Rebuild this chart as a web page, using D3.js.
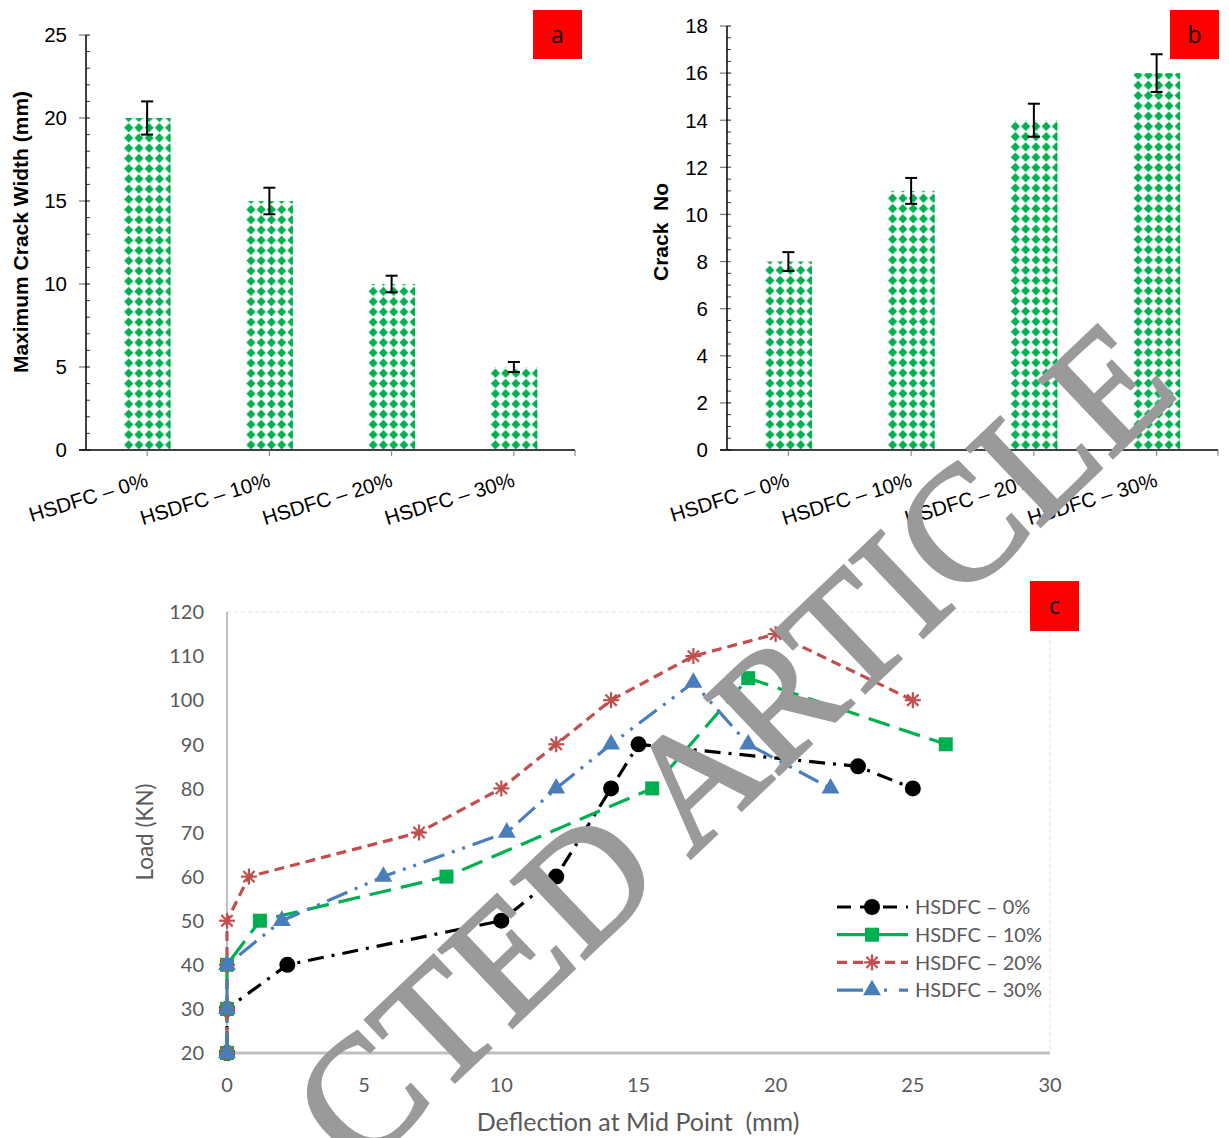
<!DOCTYPE html>
<html><head><meta charset="utf-8">
<script src="https://cdn.jsdelivr.net/npm/d3@7"></script>
<style>body{margin:0;background:#fff}svg{display:block}text{white-space:pre}</style>
</head><body>
<svg id="c" width="1229" height="1138"></svg>
<script>
// ---------- data ----------
const barCategories = ["HSDFC \u2013 0%", "HSDFC \u2013 10%", "HSDFC \u2013 20%", "HSDFC \u2013 30%"];
const crackWidth = [20, 15, 10, 5];
const crackWidthErr = [1.0, 0.8, 0.5, 0.3];
const crackNo = [8, 11, 14, 16];
const crackNoErr = [0.4, 0.55, 0.7, 0.8];
const ticksA = [0, 5, 10, 15, 20, 25];
const ticksB = [0, 2, 4, 6, 8, 10, 12, 14, 16, 18];

const seriesNames = ["HSDFC \u2013 0%", "HSDFC \u2013 10%", "HSDFC \u2013 20%", "HSDFC \u2013 30%"];
const deflection0 = [0, 0, 2.2, 10, 12, 14, 15, 23, 25];
const load0 = [20, 30, 40, 50, 60, 80, 90, 85, 80];
const deflection10 = [0, 0, 0, 1.2, 8, 15.5, 19, 26.2];
const load10 = [20, 30, 40, 50, 60, 80, 105, 90];
const deflection20 = [0, 0, 0, 0, 0.8, 7, 10, 12, 14, 17, 20, 25];
const load20 = [20, 30, 40, 50, 60, 70, 80, 90, 100, 110, 115, 100];
const deflection30 = [0, 0, 0, 2, 5.7, 10.2, 12, 14, 17, 19, 22];
const load30 = [20, 30, 40, 50, 60, 70, 80, 90, 104, 90, 80];
const ticksCx = [0, 5, 10, 15, 20, 25, 30];
const ticksCy = [20, 30, 40, 50, 60, 70, 80, 90, 100, 110, 120];

const svg = d3.select("#c");
const defs = svg.append("defs");
const GREEN = "#00b050";

function barPanel(opts) {
  const g = svg.append("g");
  const x = d3.scaleBand().domain(barCategories).range([opts.x0, opts.x1]).paddingInner(0.615).paddingOuter(0.3075);
  const y = d3.scaleLinear().domain(opts.domain).range([450, opts.yTop]);
  const minor = d3.range(opts.domain[0], opts.domain[1] + 1e-9, opts.minorStep);
  g.selectAll(".mn").data(minor).join("line")
    .attr("x1", opts.x0).attr("x2", opts.x0 + 4)
    .attr("y1", d => y(d)).attr("y2", d => y(d))
    .attr("stroke", "#333").attr("stroke-width", 1);
  g.selectAll(".mj").data(opts.ticks).join("line")
    .attr("x1", opts.x0 - 7).attr("x2", opts.x0 + 4)
    .attr("y1", d => y(d)).attr("y2", d => y(d))
    .attr("stroke", "#777").attr("stroke-width", 1.2);
  g.selectAll(".tl").data(opts.ticks).join("text")
    .attr("x", opts.x0 - 19).attr("y", d => y(d)).attr("dy", "0.36em")
    .attr("text-anchor", "end").attr("font-family", "Liberation Sans, Arial, sans-serif")
    .attr("font-size", 20.5).attr("fill", "#000").text(d => d);
  barCategories.forEach((c, i) => {
    const bx = x(c), by = y(opts.values[i]), bw = x.bandwidth(), bh = y(0) - by;
    const pid = opts.id + "p" + i;
    const step = bw / 4.6;
    const p = defs.append("pattern").attr("id", pid).attr("patternUnits", "userSpaceOnUse")
      .attr("x", bx).attr("y", y(0)).attr("width", step).attr("height", step);
    p.append("rect").attr("width", step).attr("height", step).attr("fill", "#fff");
    const s = step, h = s / 2, r = s * 0.45;
    p.append("path").attr("d", `M${h},${h - r}L${h + r},${h}L${h},${h + r}L${h - r},${h}Z`).attr("fill", GREEN);
    g.append("rect").attr("x", bx).attr("y", by).attr("width", bw).attr("height", bh).attr("fill", `url(#${pid})`);
  });
  g.append("line").attr("x1", opts.x0).attr("x2", opts.x0).attr("y1", y(opts.domain[1])).attr("y2", 450)
    .attr("stroke", "#000").attr("stroke-width", 1.5);
  g.append("line").attr("x1", opts.x0 - 7).attr("x2", opts.x1).attr("y1", 450).attr("y2", 450)
    .attr("stroke", "#000").attr("stroke-width", 1.5);
  g.append("line").attr("x1", opts.x1).attr("x2", opts.x1).attr("y1", 450).attr("y2", 456).attr("stroke", "#777");
  g.selectAll(".ct").data(barCategories).join("line")
    .attr("x1", d => x(d) + x.bandwidth() / 2).attr("x2", d => x(d) + x.bandwidth() / 2)
    .attr("y1", 450).attr("y2", 456).attr("stroke", "#777");
  barCategories.forEach((c, i) => {
    const cx = x(c) + x.bandwidth() / 2;
    const t = y(opts.values[i] + opts.err[i]), b = y(opts.values[i] - opts.err[i]);
    g.append("line").attr("x1", cx).attr("x2", cx).attr("y1", t).attr("y2", b).attr("stroke", "#000").attr("stroke-width", 2);
    [t, b].forEach(v => g.append("line").attr("x1", cx - 6).attr("x2", cx + 6).attr("y1", v).attr("y2", v).attr("stroke", "#000").attr("stroke-width", 2));
  });
  g.selectAll(".cl").data(barCategories).join("text")
    .attr("transform", d => `translate(${x(d) + x.bandwidth() / 2 + 2},${486}) rotate(-17)`)
    .attr("text-anchor", "end").attr("font-family", "Liberation Sans, Arial, sans-serif")
    .attr("font-size", 20.5).attr("fill", "#000").text(d => d);
  g.append("text").attr("transform", `translate(${opts.titleX},${opts.titleY}) rotate(-90)`)
    .attr("text-anchor", "middle").attr("font-family", "Liberation Sans, Arial, sans-serif")
    .attr("font-weight", "bold").attr("font-size", 21).attr("fill", "#000").text(opts.title);
  g.append("rect").attr("x", opts.boxX).attr("y", 10).attr("width", 49).attr("height", 49).attr("fill", "#ff0000");
  g.append("text").attr("x", opts.boxX + 24.5).attr("y", 35).attr("dy", "0.35em").attr("text-anchor", "middle")
    .attr("font-family", "Open Sans, sans-serif").attr("font-size", 23).attr("fill", "#000").text(opts.letter);
}

barPanel({ id: "a", x0: 86, x1: 575, domain: [0, 25], yTop: 35, ticks: ticksA, minorStep: 1,
  values: crackWidth, err: crackWidthErr, title: "Maximum Crack Width (mm)", titleX: 28, titleY: 232,
  boxX: 533, letter: "a" });
barPanel({ id: "b", x0: 727, x1: 1218, domain: [0, 18], yTop: 26, ticks: ticksB, minorStep: 0.5,
  values: crackNo, err: crackNoErr, title: "Crack  No", titleX: 668, titleY: 232,
  boxX: 1170, letter: "b" });

// ---------- panel c ----------
const gc = svg.append("g");
const xc = d3.scaleLinear().domain([0, 30]).range([227, 1050]);
const yc = d3.scaleLinear().domain([20, 120]).range([1053, 612]);
const GRAY = "#595959";
const FONT_C = "Lato, 'Open Sans', sans-serif";

gc.append("line").attr("x1", xc(0)).attr("x2", xc(30)).attr("y1", yc(120)).attr("y2", yc(120))
  .attr("stroke", "#e3e3e3").attr("stroke-dasharray", "4,3");
gc.append("line").attr("x1", xc(30)).attr("x2", xc(30)).attr("y1", yc(120)).attr("y2", yc(20))
  .attr("stroke", "#e3e3e3").attr("stroke-dasharray", "4,3");
gc.append("line").attr("x1", xc(0)).attr("x2", xc(0)).attr("y1", yc(120)).attr("y2", yc(20))
  .attr("stroke", "#bfbfbf").attr("stroke-width", 2);
gc.append("line").attr("x1", xc(0)).attr("x2", xc(30)).attr("y1", yc(20)).attr("y2", yc(20))
  .attr("stroke", "#bfbfbf").attr("stroke-width", 3);

gc.selectAll(".xt").data(ticksCx).join("text")
  .attr("x", d => xc(d)).attr("y", 1092).attr("text-anchor", "middle")
  .attr("font-family", FONT_C).attr("font-size", 20).attr("fill", GRAY).text(d => d);
gc.selectAll(".yt").data(ticksCy).join("text")
  .attr("x", 204).attr("y", d => yc(d)).attr("dy", "0.36em").attr("text-anchor", "end")
  .attr("font-family", FONT_C).attr("font-size", 20).attr("fill", GRAY).text(d => d);
gc.append("text").attr("x", 638).attr("y", 1131).attr("text-anchor", "middle")
  .attr("font-family", FONT_C).attr("font-size", 25).attr("fill", GRAY)
  .text("Deflection at Mid Point  (mm)");
gc.append("text").attr("transform", "translate(153,832) rotate(-90)").attr("text-anchor", "middle")
  .attr("font-family", FONT_C).attr("font-size", 22.5).attr("fill", GRAY).text("Load (KN)");

const series = [
  { name: seriesNames[0], xs: deflection0, ys: load0, color: "#000000", dash: "16,8,3,8", marker: "circle" },
  { name: seriesNames[1], xs: deflection10, ys: load10, color: "#00b050", dash: "22,10", marker: "square" },
  { name: seriesNames[2], xs: deflection20, ys: load20, color: "#c0504d", dash: "10,6", marker: "star" },
  { name: seriesNames[3], xs: deflection30, ys: load30, color: "#4a7ebb", dash: "22,8,3,8,3,8", marker: "triangle" },
];
const line = d3.line().x(d => xc(d[0])).y(d => yc(d[1]));

function drawMarker(sel, type, color) {
  if (type === "circle") sel.append("circle").attr("r", 8).attr("fill", color);
  else if (type === "square") sel.append("rect").attr("x", -7).attr("y", -7).attr("width", 14).attr("height", 14).attr("fill", color);
  else if (type === "triangle") sel.append("path").attr("d", d3.symbol(d3.symbolTriangle, 140)()).attr("fill", color);
  else if (type === "star") {
    [0, 45, 90, 135].forEach(a => sel.append("line").attr("x1", -8).attr("x2", 8).attr("y1", 0).attr("y2", 0)
      .attr("transform", `rotate(${a})`).attr("stroke", color).attr("stroke-width", 2.2));
  }
}

series.forEach(s => {
  const pts = s.xs.map((v, i) => [v, s.ys[i]]);
  gc.append("path").attr("d", line(pts)).attr("fill", "none").attr("stroke", s.color)
    .attr("stroke-width", 3.2).attr("stroke-dasharray", s.dash);
  pts.forEach(p => {
    const m = gc.append("g").attr("transform", `translate(${xc(p[0])},${yc(p[1])})`);
    drawMarker(m, s.marker, s.color);
  });
});

series.forEach((s, i) => {
  const ly = 907 + i * 27.7;
  gc.append("line").attr("x1", 837).attr("x2", 908).attr("y1", ly).attr("y2", ly)
    .attr("stroke", s.color).attr("stroke-width", 3.2).attr("stroke-dasharray", i === 0 ? "14,9" : (i === 2 ? "10,6" : (i === 3 ? "26,6,3,12,3,12" : null)));
  const m = gc.append("g").attr("transform", `translate(872,${ly})`);
  drawMarker(m, s.marker, s.color);
  gc.append("text").attr("x", 915).attr("y", ly).attr("dy", "0.36em")
    .attr("font-family", FONT_C).attr("font-size", 20).attr("fill", GRAY).text(s.name);
});
gc.append("rect").attr("x", 1030).attr("y", 581).attr("width", 49).attr("height", 50).attr("fill", "#ff0000");
gc.append("text").attr("x", 1054.5).attr("y", 606).attr("dy", "0.35em").attr("text-anchor", "middle")
  .attr("font-family", "Open Sans, sans-serif").attr("font-size", 23).attr("fill", "#000").text("c");

// watermark (overlay; the start runs past the bottom edge as in the reference)
svg.append("text").attr("transform", "translate(358,1174) rotate(-43.5)")
  .attr("text-anchor", "start").attr("font-family", "Liberation Serif, serif")
  .attr("font-size", 163).attr("fill", "#9a9a9a").attr("stroke", "#9a9a9a").attr("stroke-width", 3)
  .text("CTED ARTICLE");
</script>
</body></html>
